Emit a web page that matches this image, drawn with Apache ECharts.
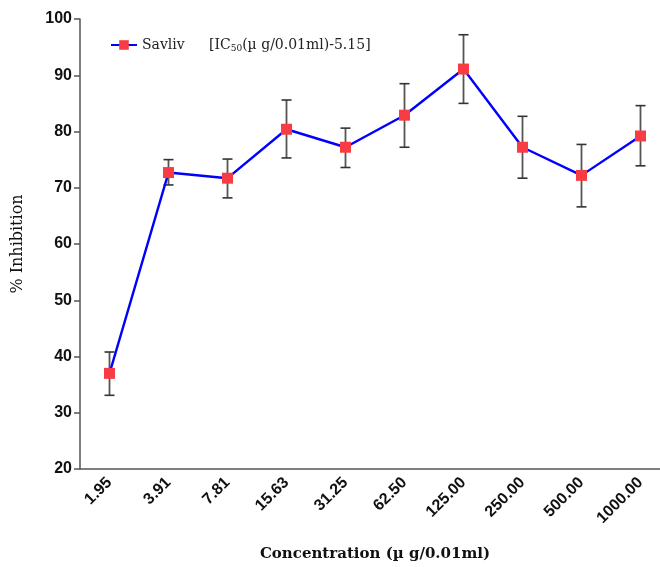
<!DOCTYPE html>
<html>
<head>
<meta charset="utf-8">
<script src="https://cdn.jsdelivr.net/npm/echarts@6/dist/echarts.min.js"></script>
<style>html,body{margin:0;padding:0;background:#fff;}#c{width:660px;height:567px;}</style>
</head>
<body>
<div id="c"></div>
<script>
const categories = ['1.95','3.91','7.81','15.63','31.25','62.50','125.00','250.00','500.00','1000.00'];
const inhibition = [37.0, 72.7, 71.7, 80.4, 77.2, 82.9, 91.1, 77.2, 72.2, 79.2];
const errUpper  = [40.8, 75.0, 75.1, 85.6, 80.6, 88.5, 97.2, 82.7, 77.7, 84.6];
const errLower  = [33.1, 70.5, 68.2, 75.3, 73.6, 77.2, 85.0, 71.7, 66.6, 73.9];
const yTicks = [20, 30, 40, 50, 60, 70, 80, 90, 100];

const chart = echarts.init(document.getElementById('c'), null, {renderer: 'canvas'});
const errData = categories.map((c, i) => [i, errLower[i], errUpper[i]]);

chart.setOption({
  animation: false,
  backgroundColor: '#fff',
  grid: {left: 80, width: 590, top: 19, bottom: 98, containLabel: false, outerBoundsMode: 'none'},
  legend: {
    left: 105, top: 33,
    itemWidth: 26, itemHeight: 12,
    data: ['Savliv'],
    formatter: () => '{a|Savliv}{b|[IC}{s|50}{b|(µ g/0.01ml)-5.15]}',
    textStyle: {
      rich: {
        a: {fontFamily: 'DejaVu Serif', fontSize: 14, color: '#222', width: 67},
        b: {fontFamily: 'DejaVu Serif', fontSize: 14, color: '#222'},
        s: {fontFamily: 'DejaVu Serif', fontSize: 9, color: '#222', verticalAlign: 'bottom', padding: [7, 0, 0, 0]}
      }
    }
  },
  xAxis: {
    type: 'category',
    data: categories,
    boundaryGap: true,
    name: 'Concentration (µ g/0.01ml)',
    nameLocation: 'middle',
    nameGap: 78,
    nameTextStyle: {fontFamily: 'DejaVu Serif', fontWeight: 'bold', fontSize: 15, color: '#111'},
    axisLine: {lineStyle: {color: '#555', width: 1.5}},
    axisTick: {alignWithLabel: true, length: 6, lineStyle: {color: '#555', width: 1.5}},
    axisLabel: {rotate: 45, margin: 11, fontFamily: 'Liberation Sans', fontWeight: 'bold', fontSize: 16, color: '#111', interval: 0},
    splitLine: {show: false}
  },
  yAxis: {
    type: 'value',
    min: 20, max: 100, interval: 10,
    name: '% Inhibition',
    nameLocation: 'middle',
    nameGap: 54,
    nameRotate: 90,
    nameTextStyle: {fontFamily: 'DejaVu Serif', fontWeight: 'normal', fontSize: 16, color: '#111'},
    axisLine: {show: true, lineStyle: {color: '#555', width: 1.5}},
    axisTick: {show: true, length: 6, lineStyle: {color: '#555', width: 1.5}},
    axisLabel: {margin: 8, fontFamily: 'Liberation Sans', fontWeight: 'bold', fontSize: 16, color: '#111',
      formatter: v => yTicks.includes(v) ? String(v) : ''},
    splitLine: {show: false}
  },
  series: [
    {
      name: 'err',
      type: 'custom',
      z: 1,
      renderItem: function (params, api) {
        const x = api.value(0);
        const lo = api.coord([x, api.value(1)]);
        const hi = api.coord([x, api.value(2)]);
        const hw = 5;
        const st = {stroke: '#333', lineWidth: 1.6};
        return {
          type: 'group',
          children: [
            {type: 'line', shape: {x1: hi[0], y1: hi[1], x2: lo[0], y2: lo[1]}, style: {stroke: '#555', lineWidth: 1.8}},
            {type: 'line', shape: {x1: hi[0] - hw, y1: hi[1], x2: hi[0] + hw, y2: hi[1]}, style: st},
            {type: 'line', shape: {x1: lo[0] - hw, y1: lo[1], x2: lo[0] + hw, y2: lo[1]}, style: st}
          ]
        };
      },
      encode: {x: 0, y: [1, 2]},
      data: errData
    },
    {
      name: 'Savliv',
      type: 'line',
      z: 3,
      data: inhibition,
      symbol: 'rect',
      symbolSize: 11,
      lineStyle: {color: '#0000ff', width: 2.4},
      itemStyle: {color: '#f83c44', borderWidth: 0},
      showSymbol: true
    }
  ]
});
</script>
</body>
</html>
